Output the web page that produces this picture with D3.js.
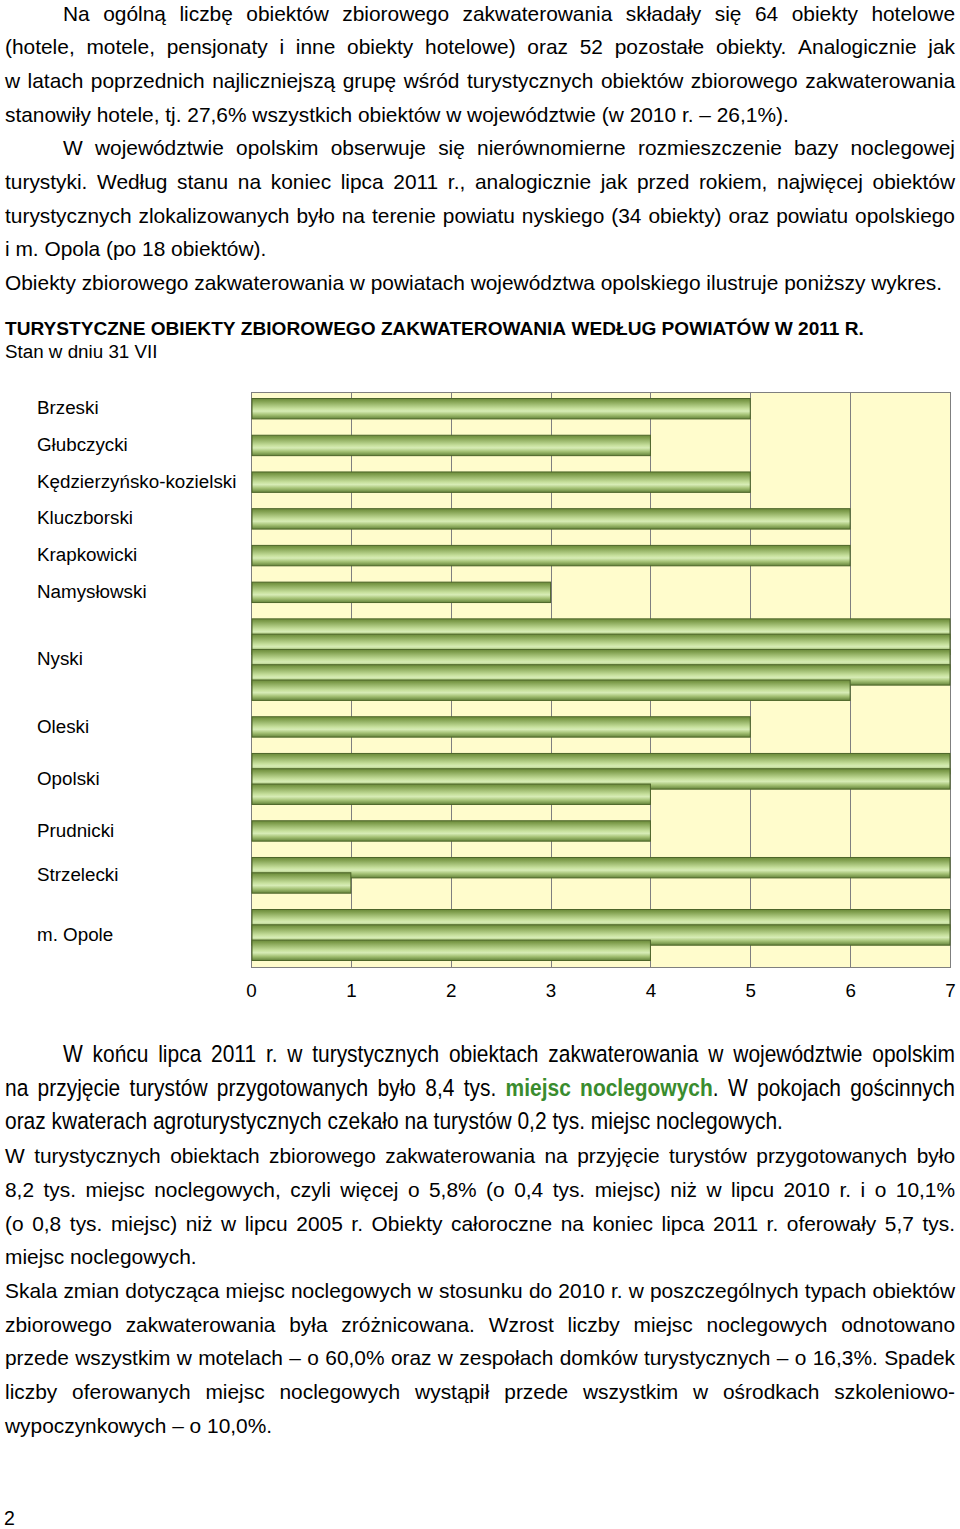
<!DOCTYPE html>
<html>
<head>
<meta charset="utf-8">
<script src="https://cdn.jsdelivr.net/npm/d3@7"></script>
<style>
  html, body { margin: 0; padding: 0; background: #ffffff; }
  svg { display: block; }
</style>
</head>
<body>
<svg id="page" width="960" height="1529"></svg>
<script>
// ---------------- DATA ----------------
const categories = [
  "Brzeski", "Głubczycki", "Kędzierzyńsko-kozielski", "Kluczborski",
  "Krapkowicki", "Namysłowski", "Nyski", "Oleski", "Opolski",
  "Prudnicki", "Strzelecki", "m. Opole"
];
// number of objects per powiat (sum = 116)
const objectCounts = [5, 4, 5, 6, 6, 3, 34, 5, 18, 4, 8, 18];
// bar segments as drawn in the chart (axis max 7, longer values continue in further bars)
const barSegments = [
  [5], [4], [5], [6], [6], [3],
  [7, 7, 7, 7, 6],
  [5],
  [7, 7, 4],
  [4],
  [7, 1],
  [7, 7, 4]
];
const xTickValues = [0, 1, 2, 3, 4, 5, 6, 7];
const xTickLabels = ["0", "1", "2", "3", "4", "5", "6", "7"];

const chartTitle = "TURYSTYCZNE OBIEKTY ZBIOROWEGO ZAKWATEROWANIA WEDŁUG POWIATÓW W 2011 R.";
const chartSubtitle = "Stan w dniu 31 VII";

const topLines = [
  "Na ogólną liczbę obiektów zbiorowego zakwaterowania składały się 64 obiekty hotelowe",
  "(hotele, motele, pensjonaty i inne obiekty hotelowe) oraz 52 pozostałe obiekty. Analogicznie jak",
  "w latach poprzednich najliczniejszą grupę wśród turystycznych obiektów zbiorowego zakwaterowania",
  "stanowiły hotele, tj. 27,6% wszystkich obiektów w województwie (w 2010 r. – 26,1%).",
  "W województwie opolskim obserwuje się nierównomierne rozmieszczenie bazy noclegowej",
  "turystyki. Według stanu na koniec lipca 2011 r., analogicznie jak przed rokiem, najwięcej obiektów",
  "turystycznych zlokalizowanych było na terenie powiatu nyskiego (34 obiekty) oraz powiatu opolskiego",
  "i m. Opola (po 18 obiektów).",
  "Obiekty zbiorowego zakwaterowania w powiatach województwa opolskiego ilustruje poniższy wykres."
];
const bottomLines = [
  "W końcu lipca 2011 r. w turystycznych obiektach zakwaterowania w województwie opolskim",
  "na przyjęcie turystów przygotowanych było 8,4 tys. {g:miejsc} {g:noclegowych}. W pokojach gościnnych",
  "oraz kwaterach agroturystycznych czekało na turystów 0,2 tys. miejsc noclegowych.",
  "W turystycznych obiektach zbiorowego zakwaterowania na przyjęcie turystów przygotowanych było",
  "8,2 tys. miejsc noclegowych, czyli więcej o 5,8% (o 0,4 tys. miejsc) niż w lipcu 2010 r. i o 10,1%",
  "(o 0,8 tys. miejsc) niż w lipcu 2005 r. Obiekty całoroczne na koniec lipca 2011 r. oferowały 5,7 tys.",
  "miejsc noclegowych.",
  "Skala zmian dotycząca miejsc noclegowych w stosunku do 2010 r. w poszczególnych typach obiektów",
  "zbiorowego zakwaterowania była zróżnicowana. Wzrost liczby miejsc noclegowych odnotowano",
  "przede wszystkim w motelach – o 60,0% oraz w zespołach domków turystycznych – o 16,3%. Spadek",
  "liczby oferowanych miejsc noclegowych wystąpił przede wszystkim w ośrodkach szkoleniowo-",
  "wypoczynkowych – o 10,0%."
];
const pageNumber = "2";

// ---------------- LAYOUT / STYLE ----------------
const BODY_FONT = "'Liberation Sans', Arial, Helvetica, sans-serif";
const NARROW_FONT = "'Liberation Sans Narrow', 'Arial Narrow', 'Liberation Sans', Arial, sans-serif";
const FS = 20.9;
const NFS = 24.5;
const LH = 33.7;
const GREEN = "#3a8c2e";

// line layout: [x0, x1, justify, narrow]
const topLayout = [
  [63, 955, true], [5, 955, true], [5, 955, true], [5, 787, false],
  [63, 955, true], [5, 955, true], [5, 955, true], [5, 266, false], [5, 945, false]
];
const bottomLayout = [
  [63, 955, true, true], [5, 955, true, true], [5, 783, false, true],
  [5, 955, true], [5, 955, true], [5, 955, true], [5, 196, false],
  [5, 955, true], [5, 955, true], [5, 955, true], [5, 955, true], [5, 272, false]
];
const TOP_BASE = 20.5, BOTTOM_BASE = 1062;

const plot = { left: 251, right: 950, top: 392, bottom: 967 };
const PAD = 6.5, BAR_H = 20.4, STEP = 15.28, GAP = 16.3;

const svg = d3.select("#page");
svg.append("rect").attr("width", 960).attr("height", 1529).attr("fill", "#ffffff");

// ---------- text helpers ----------
const measureG = svg.append("g").attr("visibility", "hidden");
function measure(str, family, size, weight) {
  const t = measureG.append("text").attr("font-family", family).attr("font-size", size)
    .attr("font-weight", weight || "normal").attr("xml:space", "preserve").text(str);
  const w = t.node().getComputedTextLength();
  t.remove();
  return w;
}
// horizontal scale of the condensed paragraph, fitted on its unjustified last line
const narrowK = (bottomLayout[2][1] - bottomLayout[2][0]) / measure(bottomLines[2], NARROW_FONT, NFS);

function parseParts(word) {
  const parts = [];
  const re = /\{g:([^}]*)\}|[^{]+/g;
  let m;
  while ((m = re.exec(word)) !== null) {
    if (m[1] !== undefined) parts.push({ text: m[1], green: true });
    else parts.push({ text: m[0], green: false });
  }
  return parts;
}

const textG = svg.append("g");
function drawLine(str, x0, x1, y, justify, narrow, opts) {
  opts = opts || {};
  const fam = narrow ? NARROW_FONT : BODY_FONT;
  const k = narrow ? narrowK : 1;
  const size = opts.size || (narrow ? NFS : FS);
  const weight = opts.bold ? "bold" : "normal";
  const words = str.split(" ");
  const nodes = words.map(w => {
    const t = textG.append("text").attr("font-family", fam).attr("font-size", size)
      .attr("font-weight", weight).attr("fill", "#000");
    parseParts(w).forEach(p => {
      const ts = t.append("tspan").text(p.text);
      if (p.green) ts.attr("fill", GREEN).attr("font-weight", "bold");
    });
    return { t, w: t.node().getComputedTextLength() * k };
  });
  const total = d3.sum(nodes, d => d.w);
  const space = (measure("a a", fam, size, weight) - measure("aa", fam, size, weight)) * k;
  const gap = (justify && nodes.length > 1) ? (x1 - x0 - total) / (nodes.length - 1) : space;
  let x = x0;
  nodes.forEach(n => {
    n.t.attr("transform", `translate(${x},${y}) scale(${k},1)`);
    x += n.w + gap;
  });
}

topLines.forEach((s, i) => {
  const L = topLayout[i];
  drawLine(s, L[0], L[1], TOP_BASE + i * LH, L[2], !!L[3]);
});
drawLine(chartTitle, 5, 861, 335, false, false, { bold: true, size: 19.1 });
drawLine(chartSubtitle, 5, 157, 357.5, false, false, { size: 18.8 });
bottomLines.forEach((s, i) => {
  const L = bottomLayout[i];
  drawLine(s, L[0], L[1], BOTTOM_BASE + i * LH, L[2], !!L[3]);
});
textG.append("text").attr("x", 4).attr("y", 1525).attr("font-family", BODY_FONT)
  .attr("font-size", 19.5).text(pageNumber);

// ---------------- CHART ----------------
const defs = svg.append("defs");
const grad = defs.append("linearGradient").attr("id", "barGrad")
  .attr("x1", 0).attr("y1", 0).attr("x2", 0).attr("y2", 1);
[[0, "#6a893a"], [0.12, "#7f9e4d"], [0.5, "#c7e09d"], [0.62, "#d7ecb6"], [0.8, "#a3c073"], [1, "#64833a"]]
  .forEach(([o, c]) => grad.append("stop").attr("offset", o).attr("stop-color", c));

// vertical unit layout
let u = PAD;
const groups = barSegments.map((segs, i) => {
  const start = u;
  const h = BAR_H + (segs.length - 1) * STEP;
  u += h + GAP;
  return { start, h, segs, name: categories[i] };
});
const totalUnits = u - GAP + PAD;

const x = d3.scaleLinear().domain([0, 7]).range([plot.left, plot.right]);
const y = d3.scaleLinear().domain([0, totalUnits]).range([plot.top, plot.bottom]);

const chart = svg.append("g");
chart.append("rect")
  .attr("x", plot.left + 0.5).attr("y", plot.top + 0.5)
  .attr("width", plot.right - plot.left).attr("height", plot.bottom - plot.top)
  .attr("fill", "#fffccc").attr("stroke", "#7f7f7f").attr("stroke-width", 1);

chart.append("g").selectAll("line")
  .data(xTickValues.filter(v => v > 0 && v < 7))
  .join("line")
  .attr("x1", d => Math.round(x(d)) + 0.5).attr("x2", d => Math.round(x(d)) + 0.5)
  .attr("y1", plot.top).attr("y2", plot.bottom)
  .attr("stroke", "#7f7f7f").attr("stroke-width", 1);

// bars
const barData = [];
groups.forEach(g => g.segs.forEach((v, j) => barData.push({ v, y0: g.start + j * STEP })));
chart.append("g").selectAll("rect")
  .data(barData)
  .join("rect")
  .attr("x", x(0) + 1)
  .attr("y", d => y(d.y0))
  .attr("width", d => x(d.v) - x(0) - 1)
  .attr("height", y(BAR_H) - y(0))
  .attr("fill", "url(#barGrad)")
  .attr("stroke", "#4d6529")
  .attr("stroke-width", 1);

// category labels
chart.append("g").selectAll("text")
  .data(groups)
  .join("text")
  .attr("x", 37)
  .attr("y", d => y(d.start + d.h / 2) - 1)
  .attr("dy", "0.35em")
  .attr("font-family", BODY_FONT)
  .attr("font-size", 18.8)
  .attr("fill", "#000")
  .text(d => d.name);

// x axis labels
const axis = d3.axisBottom(x).tickValues(xTickValues)
  .tickFormat((d, i) => xTickLabels[i]).tickSize(0).tickPadding(17);
const axG = chart.append("g").attr("transform", `translate(0,${plot.bottom})`).call(axis);
axG.select(".domain").remove();
axG.selectAll("text").attr("font-family", BODY_FONT).attr("font-size", 18.8).attr("fill", "#000");
</script>
</body>
</html>
